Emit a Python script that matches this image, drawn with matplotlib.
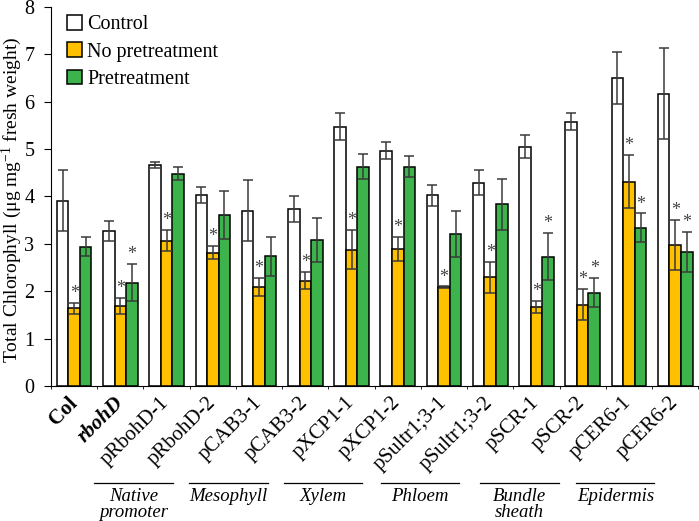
import matplotlib
matplotlib.use("Agg")
import matplotlib.pyplot as plt
import numpy as np

plt.rcParams['font.family'] = ['Liberation Serif', 'DejaVu Serif']
plt.rcParams['mathtext.fontset'] = 'custom'
plt.rcParams['mathtext.rm'] = 'Liberation Serif'
plt.rcParams['mathtext.default'] = 'regular'

lines = ["Col", "rbohD", "pRbohD-1", "pRbohD-2", "pCAB3-1", "pCAB3-2", "pXCP1-1",
         "pXCP1-2", "pSultr1;3-1", "pSultr1;3-2", "pSCR-1", "pSCR-2", "pCER6-1", "pCER6-2"]

control = [3.91, 3.27, 4.66, 4.03, 3.70, 3.73, 5.47, 4.96, 4.02, 4.29, 5.05, 5.58, 6.50, 6.17]
control_err = [0.64, 0.22, 0.06, 0.17, 0.64, 0.28, 0.29, 0.18, 0.22, 0.27, 0.25, 0.17, 0.55, 0.95]

no_pre = [1.64, 1.69, 3.07, 2.81, 2.09, 2.22, 2.88, 2.89, 2.08, 2.29, 1.67, 1.72, 4.31, 2.97]
no_pre_err = [0.12, 0.17, 0.23, 0.14, 0.18, 0.18, 0.41, 0.26, 0.02, 0.33, 0.13, 0.33, 0.56, 0.53]

pre = [2.94, 2.18, 4.48, 3.61, 2.74, 3.08, 4.63, 4.63, 3.21, 3.83, 2.73, 1.97, 3.34, 2.83]
pre_err = [0.20, 0.39, 0.13, 0.50, 0.41, 0.46, 0.27, 0.23, 0.49, 0.53, 0.50, 0.30, 0.30, 0.42]

# significance stars (1 = star)
star_no_pre = [1] * 14
star_pre = [0, 1, 0, 0, 0, 0, 0, 0, 0, 0, 1, 1, 1, 1]

groups = ["Native\npromoter", "Mesophyll", "Xylem", "Phloem", "Bundle\nsheath", "Epidermis"]
group_spans = [(0.43, 2.14), (2.49, 4.20), (4.54, 6.23), (6.64, 8.33), (8.78, 10.49), (10.86, 12.55)]

fig = plt.figure(figsize=(6.99, 5.21), dpi=100)
ax = fig.add_axes([0.073, 0.259, 0.926, 0.728])

x = np.arange(len(lines))
w = 0.25
err_kw = dict(fmt='none', ecolor='#3a3a3a', elinewidth=1.1, capsize=3.5, capthick=1.1, zorder=3)

series = [
    (control, control_err, 'white', 'Control', -w),
    (no_pre, no_pre_err, '#FFC000', 'No pretreatment', 0),
    (pre, pre_err, '#3CB44B', 'Pretreatment', w),
]
for vals, errs, col, lab, off in series:
    ax.bar(x + off, vals, w, color=col, edgecolor='black', linewidth=1.1, label=lab, zorder=2)
    ax.errorbar(x + off, vals, yerr=errs, **err_kw)

for i in range(len(lines)):
    if star_no_pre[i]:
        ax.text(x[i], no_pre[i] + no_pre_err[i] + 0.02, '*', ha='center', va='bottom',
                fontsize=13, color='#444444')
    if star_pre[i]:
        ax.text(x[i] + w, pre[i] + pre_err[i] + 0.02, '*', ha='center', va='bottom',
                fontsize=13, color='#444444')

ax.set_xlim(-0.5, 13.5)
ax.set_ylim(0, 8)
ax.spines['top'].set_visible(False)
ax.spines['right'].set_visible(False)

ax.set_yticks(range(0, 9))
ax.tick_params(axis='y', direction='out', length=5, labelsize=14.5, pad=7)
ax.set_ylabel('Total Chlorophyll (μg mg$^{-1}$ fresh weight)', fontsize=14)
ax.yaxis.set_label_coords(-0.041, 0.49)

ax.set_xticks(x)
ax.set_xticks(np.arange(-0.5, 14, 1), minor=True)
ax.tick_params(axis='x', which='major', length=0, pad=10)
ax.set_xticklabels(lines, rotation=45, ha='right', va='center', rotation_mode='anchor', fontsize=15)
for k, t in enumerate(ax.get_xticklabels()):
    if k == 0:
        t.set_fontweight('bold')
    if k == 1:
        t.set_fontweight('bold')
        t.set_fontstyle('italic')

trans = ax.get_xaxis_transform()
for name, (a, b) in zip(groups, group_spans):
    ax.plot([a, b], [-0.256, -0.256], color='black', lw=0.9, transform=trans, clip_on=False)
    ax.text((a + b) / 2, -0.27, name, transform=trans, ha='center', va='top',
            fontsize=13.5, style='italic', linespacing=0.85)

leg = ax.legend(loc='upper left', bbox_to_anchor=(0.012, 1.0), frameon=False, fontsize=14.5,
                borderaxespad=0, handlelength=0.75, handleheight=0.75, handletextpad=0.25,
                labelspacing=0.4)

fig.savefig('out.png', dpi=100)
